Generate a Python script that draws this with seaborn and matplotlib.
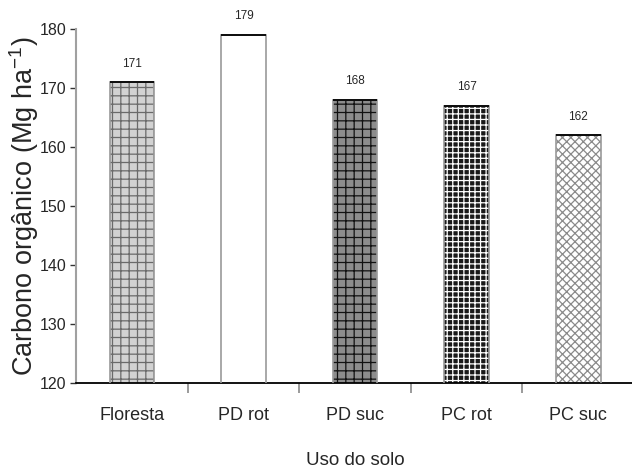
import matplotlib
matplotlib.use("Agg")
import matplotlib.pyplot as plt
import seaborn as sns
from matplotlib.patches import Rectangle
from matplotlib.ticker import MultipleLocator, FixedLocator

categorias = ["Floresta", "PD rot", "PD suc", "PC rot", "PC suc"]
carbono = [171, 179, 168, 167, 162]

# fill, hatch colour and hatch style for each bar
faces = ["#d2d2d2", "white", "#8c8c8c", "#1a1a1a", "white"]
hatch_cores = ["#6a6a6a", "white", "#111111", "white", "#8a8a8a"]
hatches = ["++", "", "++", "+++", "xxxx"]

sns.set_style("white")
fonte = ["Liberation Sans", "DejaVu Sans"]
plt.rcParams["font.family"] = fonte
plt.rcParams["mathtext.fontset"] = "custom"
plt.rcParams["mathtext.rm"] = "Liberation Sans"
plt.rcParams["hatch.linewidth"] = 0.9

fig = plt.figure(figsize=(6.32, 4.72), dpi=100)
ax = fig.add_axes([0.1203, 0.1886, 0.8830, 0.7500])

sns.barplot(x=categorias, y=carbono, ax=ax, width=0.4, color="white",
            linewidth=0, saturation=1)

for p, fc, hc, h in zip(ax.patches, faces, hatch_cores, hatches):
    p.set_facecolor(fc)
    p.set_edgecolor(hc)
    p.set_hatch(h)
    p.set_linewidth(0)
    x0, y0 = p.get_xy()
    w, hgt = p.get_width(), p.get_height()
    ax.add_patch(Rectangle((x0, y0), w, hgt, fill=False,
                           edgecolor="#9a9a9a", linewidth=1.2, zorder=3))
    ax.plot([x0, x0 + w], [y0 + hgt, y0 + hgt], color="black",
            linewidth=1.3, zorder=4, solid_capstyle="butt")

ax.bar_label(ax.containers[0], labels=[str(v) for v in carbono],
             padding=9, fontsize=8.5)

ax.set_ylim(120, 180)
ax.set_xlim(-0.5, 4.5)
ax.yaxis.set_major_locator(MultipleLocator(10))

ax.set_xticks(range(len(categorias)))
ax.set_xticklabels(categorias)
ax.xaxis.set_minor_locator(FixedLocator([0.5, 1.5, 2.5, 3.5]))
ax.tick_params(axis="x", which="major", length=0, pad=17, labelsize=13)
ax.tick_params(axis="x", which="minor", length=7, width=1.2,
               color="#8a8a8a", bottom=True)
ax.tick_params(axis="y", which="major", length=4, width=1, color="#333333",
               left=True, pad=3, labelsize=11.5)

for s in ["top", "right"]:
    ax.spines[s].set_visible(False)
ax.spines["left"].set_color("#a0a0a0")
ax.spines["left"].set_linewidth(1.5)
ax.spines["bottom"].set_color("black")
ax.spines["bottom"].set_linewidth(1.3)

ax.set_xlabel("Uso do solo", fontsize=13.5)
ax.xaxis.set_label_coords(0.5, -0.195)
ax.set_ylabel("Carbono orgânico (Mg ha$^{\\mathregular{-1}}$)", fontsize=19.5)
ax.yaxis.set_label_coords(-0.062, 0.5)

fig.savefig("out.png", dpi=100)
